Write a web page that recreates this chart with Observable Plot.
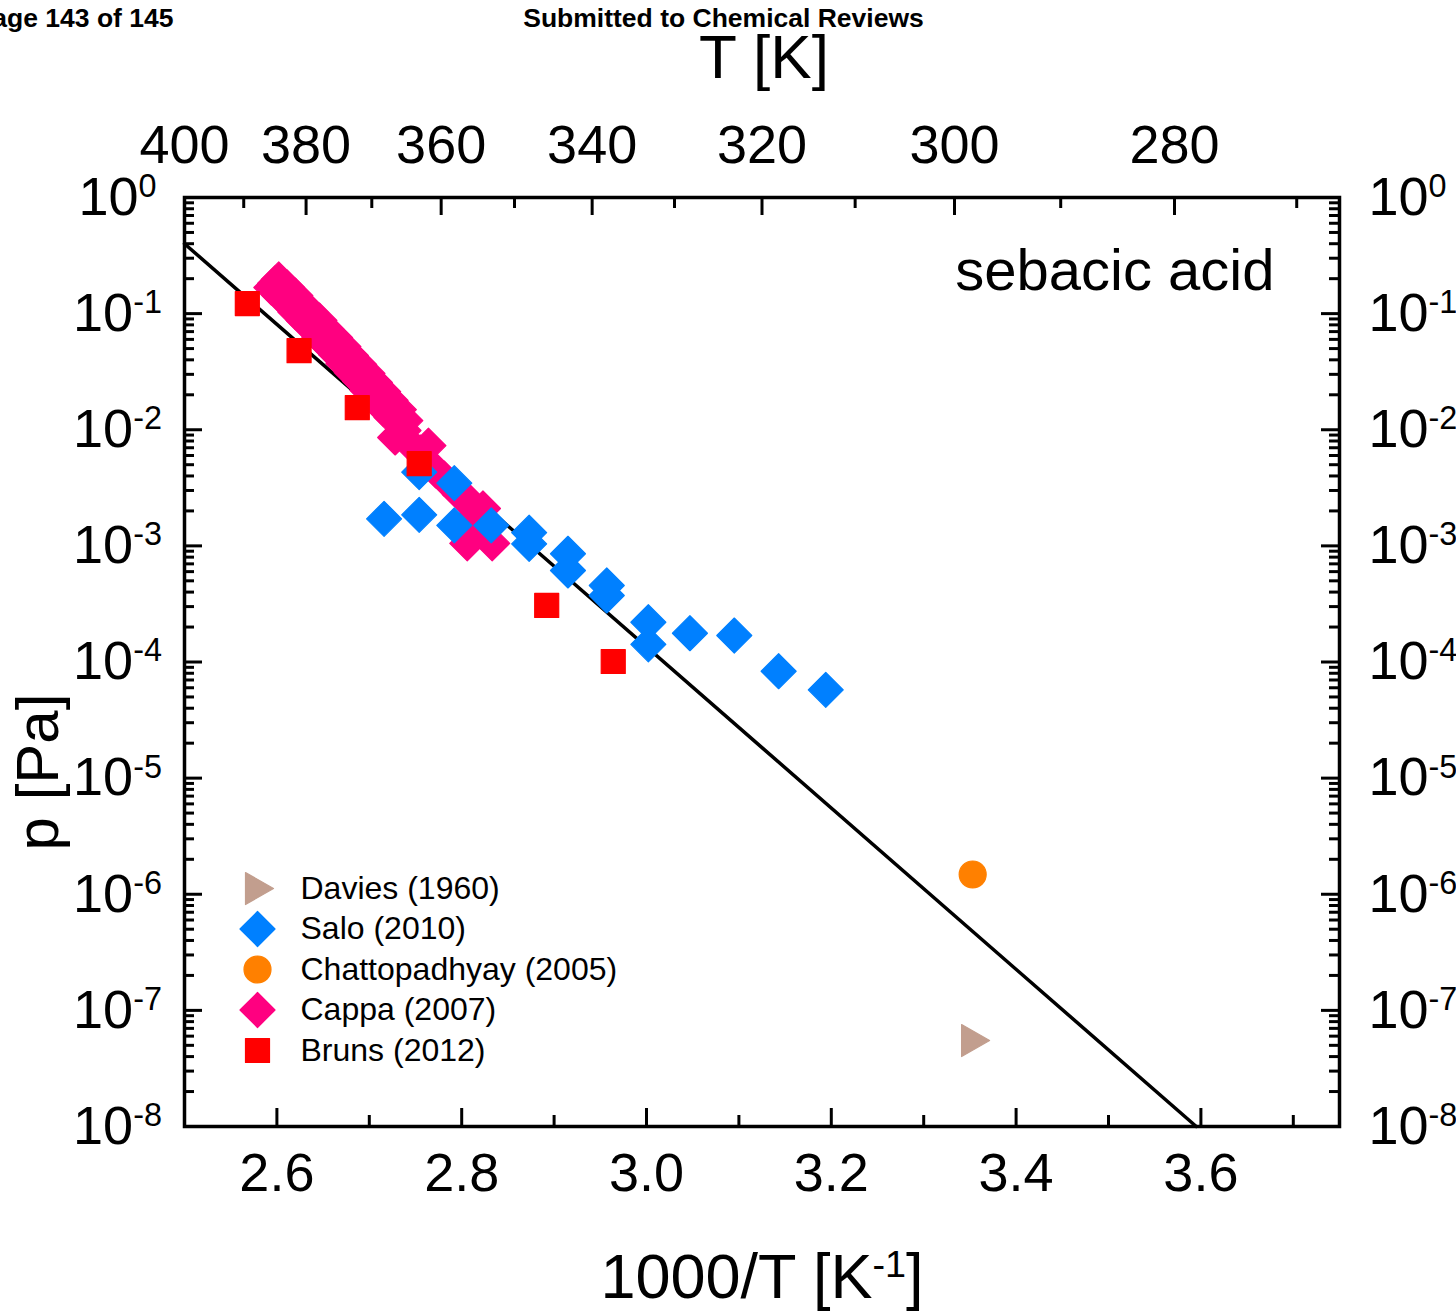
<!DOCTYPE html>
<html>
<head>
<meta charset="utf-8">
<script src="https://cdn.jsdelivr.net/npm/d3@7"></script>
<script src="https://cdn.jsdelivr.net/npm/@observablehq/plot@0.6"></script>
<style>
  html, body { margin: 0; padding: 0; background: white; }
  svg { display: block; }
</style>
</head>
<body>
<div id="chart"></div>
<script>
// ---------- data (1000/T [1/K], p [Pa]) ----------
const fitLine = [[2.5, 0.40], [3.595, 1e-8]];

const bruns = [
  [2.568, 0.122], [2.624, 0.048], [2.687, 0.0155], [2.754, 0.0051],
  [2.892, 3.07e-4], [2.964, 1.01e-4]
];

const salo = [
  [2.716, 1.71e-3], [2.754, 1.85e-3], [2.754, 4.31e-3], [2.792, 3.47e-3],
  [2.792, 1.50e-3], [2.832, 1.50e-3], [2.873, 1.30e-3], [2.873, 1.04e-3],
  [2.915, 8.55e-4], [2.915, 6.14e-4], [2.957, 4.56e-4], [2.957, 3.74e-4],
  [3.002, 2.20e-4], [3.002, 1.42e-4], [3.047, 1.77e-4], [3.095, 1.69e-4],
  [3.143, 8.33e-5], [3.194, 5.76e-5]
];

const cappa = [
  [2.598, 0.182], [2.607, 0.155], [2.616, 0.132], [2.624, 0.111],
  [2.633, 0.0945], [2.642, 0.0806], [2.650, 0.0674], [2.659, 0.0575],
  [2.668, 0.0481], [2.676, 0.0403], [2.685, 0.0337], [2.694, 0.0282],
  [2.702, 0.0236], [2.711, 0.0197], [2.719, 0.0165], [2.728, 0.0138],
  [2.739, 0.0120], [2.728, 0.00858], [2.737, 0.00986], [2.746, 0.00731],
  [2.755, 0.00637], [2.764, 0.00731], [2.772, 0.00446], [2.781, 0.00380],
  [2.790, 0.00325], [2.798, 0.00277], [2.807, 0.00246], [2.823, 0.00210],
  [2.809, 0.00166], [2.818, 0.00144], [2.806, 0.00105], [2.833, 0.00105],
  [2.826, 0.00136],
  [2.602, 0.197], [2.611, 0.168], [2.620, 0.143], [2.628, 0.120],
  [2.637, 0.102], [2.646, 0.0872], [2.654, 0.0729], [2.663, 0.0622],
  [2.672, 0.0520], [2.680, 0.0436], [2.689, 0.0365], [2.698, 0.0305],
  [2.706, 0.0255], [2.715, 0.0213], [2.723, 0.0179], [2.732, 0.0149],
  [2.594, 0.168], [2.603, 0.143], [2.612, 0.122], [2.620, 0.103],
  [2.629, 0.0873], [2.638, 0.0745], [2.646, 0.0623], [2.655, 0.0531],
  [2.664, 0.0445], [2.672, 0.0372], [2.681, 0.0311], [2.690, 0.0261],
  [2.698, 0.0218], [2.707, 0.0182], [2.715, 0.0152], [2.724, 0.0128]
];

const chattopadhyay = [[3.353, 1.48e-6]];
const davies = [[3.354, 5.5e-8]];

// ---------- ticks & labels ----------
const xMajor = [2.6, 2.8, 3.0, 3.2, 3.4, 3.6];
const xMinor = [2.7, 2.9, 3.1, 3.3, 3.5, 3.7];
const tMajor = [400, 380, 360, 340, 320, 300, 280];
const tMinor = [390, 370, 350, 330, 310, 290, 270];
const yDecades = [1e-8, 1e-7, 1e-6, 1e-5, 1e-4, 1e-3, 1e-2, 1e-1, 1];
const yMinor = [];
for (const d of yDecades.slice(0, -1)) for (let m = 2; m <= 9; m++) yMinor.push(d * m);

const legendLabels = ["Davies (1960)", "Salo (2010)", "Chattopadhyay (2005)", "Cappa (2007)", "Bruns (2012)"];
const legendKeys = ["triangle", "diamond", "circle", "diamond", "square"];
const colors = {
  davies: "#C29E8E",
  salo: "#0080FF",
  chattopadhyay: "#FF8000",
  cappa: "#FF0080",
  bruns: "#FF0000"
};
const legendColors = [colors.davies, colors.salo, colors.chattopadhyay, colors.cappa, colors.bruns];

// ---------- symbols ----------
const symDiamond = { draw(ctx, size) { const r = Math.sqrt(size / Math.PI);
  ctx.moveTo(0, -r); ctx.lineTo(r, 0); ctx.lineTo(0, r); ctx.lineTo(-r, 0); ctx.closePath(); } };
const symSquare = { draw(ctx, size) { const r = Math.sqrt(size / Math.PI);
  ctx.moveTo(-r, -r); ctx.lineTo(r, -r); ctx.lineTo(r, r); ctx.lineTo(-r, r); ctx.closePath(); } };
const symTriangle = { draw(ctx, size) { const r = Math.sqrt(size / Math.PI);
  ctx.moveTo(-0.75 * r, -r); ctx.lineTo(r, 0); ctx.lineTo(-0.75 * r, r); ctx.closePath(); } };
const symCircle = { draw(ctx, size) { const r = Math.sqrt(size / Math.PI);
  ctx.moveTo(r, 0); ctx.arc(0, 0, r, 0, 2 * Math.PI); } };
const symbolFor = { diamond: symDiamond, square: symSquare, triangle: symTriangle, circle: symCircle };
const sizeFor = { diamond: 17.5, square: 12, triangle: 16, circle: 13.5 };

// ---------- layout ----------
const W = 1456, H = 1312, mL = 184, mR = 117, mT = 197, mB = 186;
const FW = W - mL - mR, FH = H - mT - mB;
const font = "'Liberation Sans', Arial, Helvetica, sans-serif";

const px = d => d[0], py = d => d[1];
const dotOpts = (key, color) => ({
  x: px, y: py, symbol: symbolFor[key], r: sizeFor[key],
  fill: color, stroke: color, strokeWidth: 1.2, strokeLinejoin: "round"
});

const legendMarks = legendLabels.flatMap((label, i) => [
  Plot.dot([label], {frameAnchor: "top-left", dx: 73, dy: 691 + i * 40.5,
    symbol: symbolFor[legendKeys[i]], r: sizeFor[legendKeys[i]],
    fill: legendColors[i], stroke: legendColors[i], strokeWidth: 1.2, strokeLinejoin: "round"}),
  Plot.text([label], {frameAnchor: "top-left", dx: 116, dy: 691 + i * 40.5,
    text: d => d, textAnchor: "start", lineAnchor: "middle", fontSize: 32, fill: "black"})
]);

const tickStyle = {stroke: "black", strokeWidth: 3};

const chart = Plot.plot({
  width: W, height: H,
  marginLeft: mL, marginRight: mR, marginTop: mT, marginBottom: mB,
  style: {fontFamily: font, background: "white", overflow: "visible", color: "black"},
  x: {domain: [2.5, 3.75]},
  y: {type: "log", domain: [1e-8, 1]},
  marks: [
    Plot.line(fitLine, {x: px, y: py, stroke: "black", strokeWidth: 3.5}),
    Plot.dot(cappa, dotOpts("diamond", colors.cappa)),
    Plot.dot(salo, dotOpts("diamond", colors.salo)),
    Plot.dot(bruns, dotOpts("square", colors.bruns)),
    Plot.dot(chattopadhyay, dotOpts("circle", colors.chattopadhyay)),
    Plot.dot(davies, dotOpts("triangle", colors.davies)),
    ...legendMarks,
    Plot.text(["sebacic acid"], {frameAnchor: "top-right", dx: -65, dy: 74,
      text: d => d, textAnchor: "end", lineAnchor: "middle", fontSize: 58, fill: "black"}),

    // inward ticks
    Plot.tickX(xMajor, {x: d => d, insetTop: FH - 18, ...tickStyle}),
    Plot.tickX(xMinor, {x: d => d, insetTop: FH - 11, ...tickStyle}),
    Plot.tickX(tMajor.map(t => 1000 / t), {x: d => d, insetBottom: FH - 18, ...tickStyle}),
    Plot.tickX(tMinor.map(t => 1000 / t), {x: d => d, insetBottom: FH - 11, ...tickStyle}),
    Plot.tickY(yDecades, {y: d => d, insetRight: FW - 18, ...tickStyle}),
    Plot.tickY(yMinor, {y: d => d, insetRight: FW - 10, ...tickStyle}),
    Plot.tickY(yDecades, {y: d => d, insetLeft: FW - 18, ...tickStyle}),
    Plot.tickY(yMinor, {y: d => d, insetLeft: FW - 10, ...tickStyle}),
    Plot.frame({stroke: "black", strokeWidth: 3.5}),

    // tick labels
    Plot.axisX({anchor: "bottom", ticks: xMajor, tickFormat: d3.format(".1f"), tickSize: 0,
      tickPadding: 26, fontSize: 54, label: null}),
    Plot.axisX({anchor: "top", ticks: tMajor.map(t => 1000 / t), tickFormat: d => String(Math.round(1000 / d)),
      tickSize: 0, tickPadding: 35, fontSize: 54, label: null}),
    Plot.axisY({anchor: "left", ticks: yDecades, tickFormat: d => `10^${Math.round(Math.log10(d))}^`,
      tickSize: 0, tickPadding: 67, textAnchor: "middle", fontSize: 54, label: null}),
    Plot.axisY({anchor: "right", ticks: yDecades, tickFormat: d => `10^${Math.round(Math.log10(d))}^`,
      tickSize: 0, tickPadding: 29, textAnchor: "start", fontSize: 54, label: null}),

    // axis titles
    Plot.text(["T [K]"], {frameAnchor: "top", dx: 2, dy: -139, text: d => d,
      textAnchor: "middle", lineAnchor: "middle", fontSize: 62, fill: "black"}),
    Plot.text(["1000/T [K^-1^]"], {frameAnchor: "bottom", dx: 0, dy: 151, text: d => d,
      textAnchor: "middle", lineAnchor: "middle", fontSize: 63, fill: "black"}),
    Plot.text(["p [Pa]"], {frameAnchor: "left", dx: -146, dy: 110, rotate: -90, text: d => d,
      textAnchor: "middle", lineAnchor: "middle", fontSize: 60, fill: "black"}),

    // page header
    Plot.text(["Page 143 of 145"], {frameAnchor: "top-left", dx: 173 - mL, dy: 18 - mT, text: d => d,
      textAnchor: "end", lineAnchor: "middle", fontSize: 26.5, fontWeight: "bold", fill: "black"}),
    Plot.text(["Submitted to Chemical Reviews"], {frameAnchor: "top-left", dx: 723 - mL, dy: 18 - mT, text: d => d,
      textAnchor: "middle", lineAnchor: "middle", fontSize: 26.5, fontWeight: "bold", fill: "black"})
  ]
});

// superscripts: segments between ^ ... ^ are raised
const NS = "http://www.w3.org/2000/svg";
chart.querySelectorAll("text").forEach(t => {
  const s = t.textContent;
  if (!s.includes("^") || t.querySelector("tspan")) return;
  const parts = s.split("^");
  t.textContent = "";
  parts.forEach((p, i) => {
    if (!p) return;
    const ts = document.createElementNS(NS, "tspan");
    ts.textContent = p;
    if (i % 2 === 1) { ts.setAttribute("font-size", "60%"); ts.setAttribute("dy", "-0.55em"); }
    else if (i > 0) { ts.setAttribute("dy", "0.33em"); }
    t.appendChild(ts);
  });
});

document.getElementById("chart").appendChild(chart);
</script>
</body>
</html>
